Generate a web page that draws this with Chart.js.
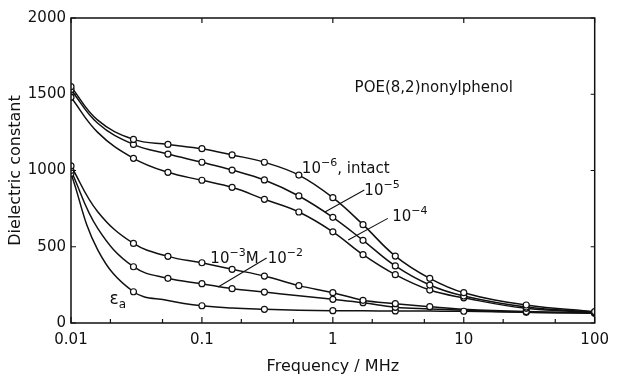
<!DOCTYPE html>
<html lang="en">
<head>
  <meta charset="UTF-8" />
  <title>POE(8,2)nonylphenol – dielectric constant</title>
  <script src="https://cdn.jsdelivr.net/npm/chart.js"></script>
  <style>
    html, body { margin: 0; padding: 0; background: #fff; }
    #wrap { width: 617px; height: 376px; }
  </style>
</head>
<body>
  <div id="wrap"><canvas id="chart"></canvas></div>

  <script>
    // frequencies (MHz)
    const freqs = [0.01, 0.016, 0.03, 0.055, 0.1, 0.17, 0.3, 0.55, 1, 1.7, 3, 5.5, 10, 30, 100];

    // dielectric constant per curve
    const intact = [1550, 1330, 1204, 1171, 1143, 1102, 1054, 970, 822, 645, 439, 293, 199, 118, 74];
    const m1e5   = [1530, 1310, 1171, 1108, 1054, 1003, 938, 833, 693, 542, 374, 249, 177, 105, 72];
    const m1e4   = [1480, 1250, 1080, 988, 936, 890, 811, 728, 598, 448, 317, 216, 165, 96, 70];
    const m1e3   = [1030, 730, 522, 437, 395, 352, 308, 245, 199, 149, 127, 107, 90, 75, 68];
    const m1e2   = [1000, 620, 369, 293, 258, 225, 203, 178, 155, 133, 103, 92, 84, 70, 66];
    const epsA   = [980, 480, 205, 148, 113, 98, 90, 84, 81, 80, 79, 78, 77, 70, 64];

    // frequencies where a measured point (circle) is shown
    const markUpper = [0.01, 0.03, 0.055, 0.1, 0.17, 0.3, 0.55, 1, 1.7, 3, 5.5, 10, 30, 100];
    const mark1e3   = [0.01, 0.03, 0.055, 0.1, 0.17, 0.3, 0.55, 1, 1.7, 3, 5.5, 30, 100];
    const mark1e2   = [0.01, 0.03, 0.055, 0.1, 0.17, 0.3, 1, 1.7, 3, 30, 100];
    const markEps   = [0.01, 0.03, 0.1, 0.3, 1, 3, 10, 100];

    // axis ticks
    const xTicks = [0.01, 0.1, 1, 10, 100];
    const xTickLabels = ['0.01', '0.1', '1', '10', '100'];
    const xMinor = [0.02, 0.05, 0.2, 0.5, 2, 5, 20, 50];
    const yTicks = [0, 500, 1000, 1500, 2000];
    const yTickLabels = ['0', '500', '1000', '1500', '2000'];

    const FONT = 'DejaVu Sans';

    function pts(vals) {
      return freqs.map((f, i) => ({ x: f, y: vals[i] }));
    }
    function marks(vals, at) {
      return pts(vals).filter(p => at.includes(p.x));
    }

    const curves = [
      [intact, markUpper], [m1e5, markUpper], [m1e4, markUpper],
      [m1e3, mark1e3], [m1e2, mark1e2], [epsA, markEps]
    ];

    const datasets = [];
    curves.forEach(([vals, at]) => {
      datasets.push({
        data: pts(vals), order: 2,
        borderColor: '#111', borderWidth: 1.5,
        pointRadius: 0, tension: 0.4, fill: false
      });
      datasets.push({
        data: marks(vals, at), order: 1,
        showLine: false,
        pointRadius: 3, pointBorderWidth: 1.2,
        pointBackgroundColor: '#fff', pointBorderColor: '#111'
      });
    });

    // text labels on the plot: [base, exponent, suffix, freq, value]
    const labels = [
      ['10', '−6', ', intact', 0.58, 984],
      ['10', '−5', '', 1.74, 839],
      ['10', '−4', '', 2.84, 669],
      ['10', '−3', 'M', 0.116, 393],
      ['10', '−2', '', 0.318, 393]
    ];
    // leader lines: [f1, v1, f2, v2]
    const leaders = [
      [0.87, 728, 1.74, 872],
      [1.31, 544, 2.63, 686],
      [0.133, 236, 0.312, 426]
    ];

    const decor = {
      id: 'decor',
      afterDatasetsDraw(chart) {
        const { ctx, chartArea: a, scales: { x, y } } = chart;
        ctx.save();
        ctx.strokeStyle = '#111';
        ctx.fillStyle = '#111';

        // frame
        ctx.lineWidth = 1.5;
        ctx.strokeRect(a.left, a.top, a.right - a.left, a.bottom - a.top);

        // inward ticks
        ctx.lineWidth = 1.2;
        ctx.beginPath();
        xTicks.forEach(v => {
          const px = x.getPixelForValue(v);
          ctx.moveTo(px, a.bottom); ctx.lineTo(px, a.bottom - 6);
          ctx.moveTo(px, a.top); ctx.lineTo(px, a.top + 5);
        });
        xMinor.forEach(v => {
          const px = x.getPixelForValue(v);
          ctx.moveTo(px, a.bottom); ctx.lineTo(px, a.bottom - 4);
        });
        yTicks.forEach(v => {
          const py = y.getPixelForValue(v);
          ctx.moveTo(a.left, py); ctx.lineTo(a.left + 5, py);
          ctx.moveTo(a.right, py); ctx.lineTo(a.right - 4, py);
        });
        ctx.stroke();

        // leader lines
        ctx.lineWidth = 1.1;
        ctx.beginPath();
        leaders.forEach(([f1, v1, f2, v2]) => {
          ctx.moveTo(x.getPixelForValue(f1), y.getPixelForValue(v1));
          ctx.lineTo(x.getPixelForValue(f2), y.getPixelForValue(v2));
        });
        ctx.stroke();

        // powers of ten
        ctx.textBaseline = 'alphabetic';
        ctx.textAlign = 'left';
        labels.forEach(([b, e, s, f, v]) => {
          let px = x.getPixelForValue(f);
          const py = y.getPixelForValue(v);
          ctx.font = '15px "' + FONT + '"';
          ctx.fillText(b, px, py);
          px += ctx.measureText(b).width;
          ctx.font = '11px "' + FONT + '"';
          ctx.fillText(e, px, py - 7);
          px += ctx.measureText(e).width;
          ctx.font = '15px "' + FONT + '"';
          ctx.fillText(s, px, py);
        });

        // epsilon_a
        let ex = x.getPixelForValue(0.0197);
        const ey = y.getPixelForValue(125);
        ctx.font = '17px "' + FONT + '"';
        ctx.fillText('ε', ex, ey);
        ex += ctx.measureText('ε').width;
        ctx.font = '12px "' + FONT + '"';
        ctx.fillText('a', ex, ey + 4);

        // sample name
        ctx.font = '15px "' + FONT + '"';
        ctx.fillText('POE(8,2)nonylphenol', x.getPixelForValue(1.466), y.getPixelForValue(1515));

        ctx.restore();
      }
    };

    new Chart(document.getElementById('chart'), {
      type: 'line',
      data: { datasets },
      plugins: [decor],
      options: {
        responsive: true,
        maintainAspectRatio: false,
        animation: false,
        layout: { padding: { left: 0, right: 16, top: 18, bottom: 0 } },
        plugins: { legend: { display: false }, tooltip: { enabled: false } },
        scales: {
          x: {
            type: 'logarithmic',
            min: 0.01, max: 100,
            grid: { display: false, drawTicks: false },
            border: { display: false },
            afterBuildTicks: s => { s.ticks = xTicks.map(v => ({ value: v })); },
            afterFit: s => { s.height = 53; },
            ticks: {
              color: '#111', padding: 8,
              font: { family: FONT, size: 15 },
              maxRotation: 0, autoSkip: false,
              callback: v => xTickLabels[xTicks.indexOf(v)] ?? ''
            },
            title: {
              display: true, text: 'Frequency / MHz', color: '#111',
              font: { family: FONT, size: 16 },
              padding: { top: 0, bottom: 0 }
            }
          },
          y: {
            min: 0, max: 2000,
            grid: { display: false, drawTicks: false },
            border: { display: false },
            afterBuildTicks: s => { s.ticks = yTicks.map(v => ({ value: v })); },
            afterFit: s => { s.width = 71; },
            ticks: {
              color: '#111', padding: 5,
              font: { family: FONT, size: 15 },
              callback: v => yTickLabels[yTicks.indexOf(v)] ?? ''
            },
            title: {
              display: true, text: 'Dielectric constant', color: '#111',
              font: { family: FONT, size: 16 },
              padding: { top: 6, bottom: 0 }
            }
          }
        }
      }
    });
  </script>
</body>
</html>
